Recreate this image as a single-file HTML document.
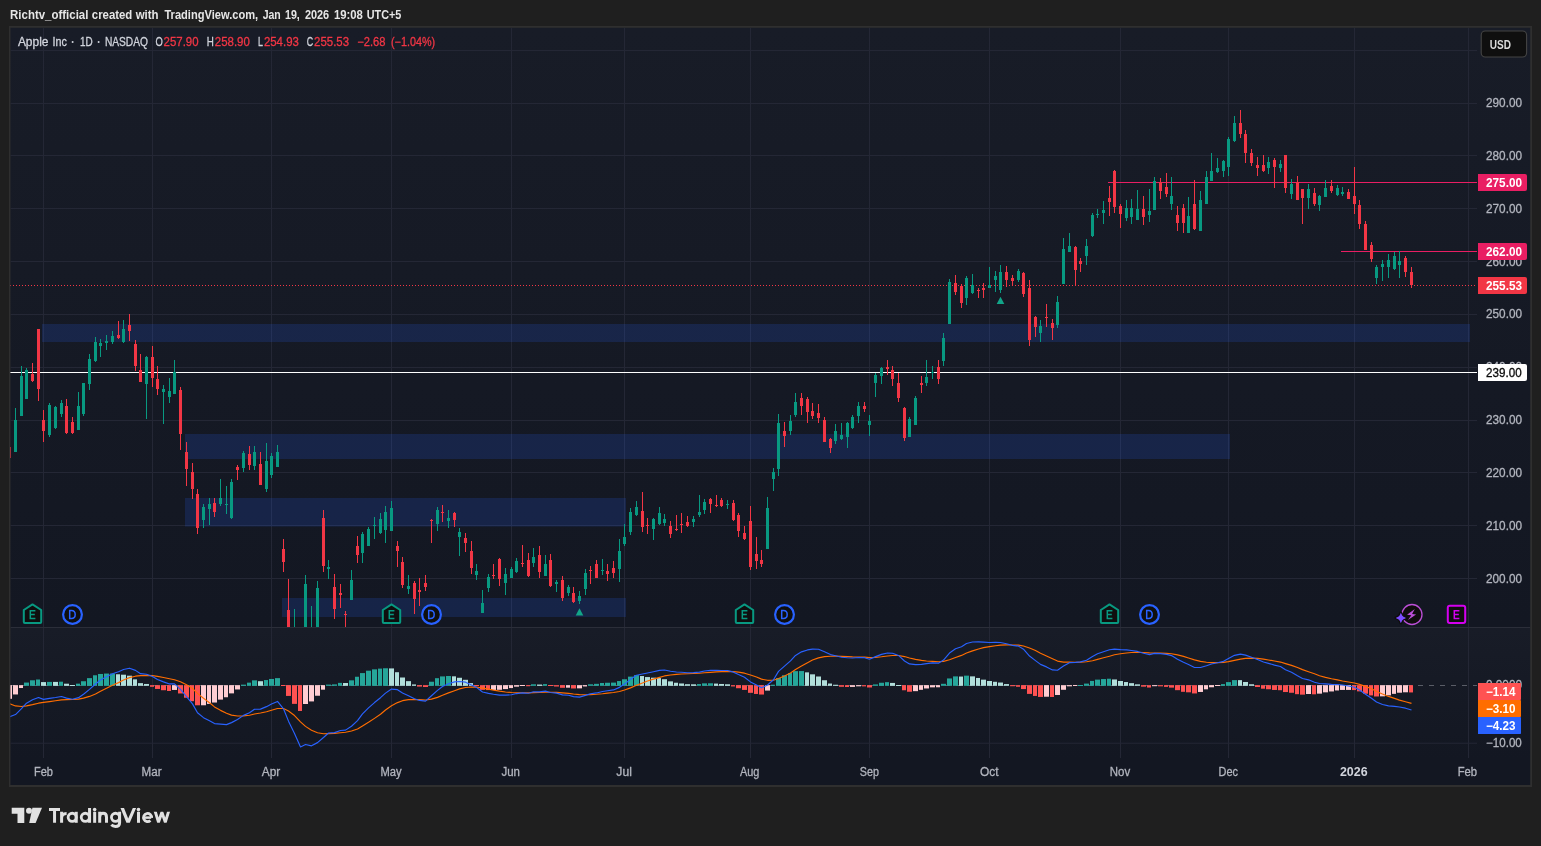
<!DOCTYPE html><html><head><meta charset="utf-8"><title>AAPL chart</title><style>html,body{margin:0;padding:0;background:#1f1f1f;overflow:hidden}</style></head><body><svg width="1541" height="846" viewBox="0 0 1541 846" style="display:block;font-family:'Liberation Sans',sans-serif">
<defs>
<linearGradient id="g1" x1="0" y1="0" x2="0" y2="1"><stop offset="0" stop-color="#181c27"/><stop offset="1" stop-color="#131722"/></linearGradient>
<clipPath id="mainclip"><rect x="10" y="28" width="1467" height="599"/></clipPath>
<clipPath id="macdclip"><rect x="10" y="628" width="1467" height="130"/></clipPath>
</defs>
<rect width="1541" height="846" fill="#1f1f1f"/>
<rect x="10" y="27" width="1521" height="759" fill="#131722"/>
<rect x="10" y="27" width="1521" height="600" fill="url(#g1)"/>
<rect x="10" y="628" width="1521" height="130" fill="url(#g1)"/>
<rect x="10.6" y="50.0" width="1466.4" height="1" fill="#242735"/>
<rect x="10.6" y="103.0" width="1466.4" height="1" fill="#242735"/>
<rect x="10.6" y="155.0" width="1466.4" height="1" fill="#242735"/>
<rect x="10.6" y="208.0" width="1466.4" height="1" fill="#242735"/>
<rect x="10.6" y="261.0" width="1466.4" height="1" fill="#242735"/>
<rect x="10.6" y="314.0" width="1466.4" height="1" fill="#242735"/>
<rect x="10.6" y="367.0" width="1466.4" height="1" fill="#242735"/>
<rect x="10.6" y="420.0" width="1466.4" height="1" fill="#242735"/>
<rect x="10.6" y="472.0" width="1466.4" height="1" fill="#242735"/>
<rect x="10.6" y="525.0" width="1466.4" height="1" fill="#242735"/>
<rect x="10.6" y="578.0" width="1466.4" height="1" fill="#242735"/>
<rect x="43.0" y="27.8" width="1" height="730.2" fill="#242735"/>
<rect x="152.0" y="27.8" width="1" height="730.2" fill="#242735"/>
<rect x="271.0" y="27.8" width="1" height="730.2" fill="#242735"/>
<rect x="391.0" y="27.8" width="1" height="730.2" fill="#242735"/>
<rect x="511.0" y="27.8" width="1" height="730.2" fill="#242735"/>
<rect x="624.0" y="27.8" width="1" height="730.2" fill="#242735"/>
<rect x="750.0" y="27.8" width="1" height="730.2" fill="#242735"/>
<rect x="869.0" y="27.8" width="1" height="730.2" fill="#242735"/>
<rect x="989.0" y="27.8" width="1" height="730.2" fill="#242735"/>
<rect x="1120.0" y="27.8" width="1" height="730.2" fill="#242735"/>
<rect x="1228.0" y="27.8" width="1" height="730.2" fill="#242735"/>
<rect x="1354.0" y="27.8" width="1" height="730.2" fill="#242735"/>
<rect x="1468.0" y="27.8" width="1" height="730.2" fill="#242735"/>
<rect x="10.6" y="742.7" width="1466.4" height="1" fill="#242735"/>
<rect x="10.6" y="627" width="1519.6" height="1" fill="#2b2e39"/>
<rect x="42" y="324" width="1428" height="18" fill="rgba(41,98,255,0.17)"/>
<rect x="185" y="434" width="1045" height="25" fill="rgba(41,98,255,0.17)"/>
<rect x="185" y="498" width="441" height="28.5" fill="rgba(41,98,255,0.17)"/>
<rect x="282" y="598" width="344" height="19" fill="rgba(41,98,255,0.17)"/>
<rect x="1108" y="182" width="369" height="1" fill="#e91e63"/>
<rect x="1341" y="251" width="136" height="1" fill="#e91e63"/>
<line x1="10" y1="285.5" x2="1477" y2="285.5" stroke="#f23645" stroke-width="1" stroke-dasharray="1 2" shape-rendering="crispEdges"/>
<rect x="10" y="372" width="1467" height="1" fill="#ffffff"/>
<g clip-path="url(#mainclip)" shape-rendering="crispEdges">
<rect x="9.0" y="447" width="1" height="11" fill="#f23645"/>
<rect x="8.0" y="447" width="3" height="11" fill="#f23645"/>
<rect x="15.0" y="408" width="1" height="44" fill="#089981"/>
<rect x="14.0" y="420" width="3" height="32" fill="#089981"/>
<rect x="21.0" y="366" width="1" height="50" fill="#089981"/>
<rect x="20.0" y="376" width="3" height="40" fill="#089981"/>
<rect x="26.0" y="368" width="1" height="31" fill="#089981"/>
<rect x="25.0" y="370" width="3" height="29" fill="#089981"/>
<rect x="32.0" y="363" width="1" height="19" fill="#f23645"/>
<rect x="31.0" y="374" width="3" height="7" fill="#f23645"/>
<rect x="38.0" y="329" width="1" height="72" fill="#f23645"/>
<rect x="37.0" y="329" width="3" height="60" fill="#f23645"/>
<rect x="43.0" y="410" width="1" height="32" fill="#f23645"/>
<rect x="42.0" y="420" width="3" height="11" fill="#f23645"/>
<rect x="49.0" y="403" width="1" height="34" fill="#089981"/>
<rect x="48.0" y="405" width="3" height="30" fill="#089981"/>
<rect x="55.0" y="405.5" width="1" height="23.5" fill="#089981"/>
<rect x="54.0" y="406.5" width="3" height="21.5" fill="#089981"/>
<rect x="61.0" y="400" width="1" height="17" fill="#089981"/>
<rect x="60.0" y="403" width="3" height="11" fill="#089981"/>
<rect x="66.0" y="399" width="1" height="35" fill="#f23645"/>
<rect x="65.0" y="406" width="3" height="27" fill="#f23645"/>
<rect x="72.0" y="417" width="1" height="17" fill="#f23645"/>
<rect x="71.0" y="422" width="3" height="11" fill="#f23645"/>
<rect x="78.0" y="392" width="1" height="38" fill="#089981"/>
<rect x="77.0" y="406" width="3" height="24" fill="#089981"/>
<rect x="83.0" y="383" width="1" height="33" fill="#089981"/>
<rect x="82.0" y="383" width="3" height="31" fill="#089981"/>
<rect x="89.0" y="354" width="1" height="36" fill="#089981"/>
<rect x="88.0" y="359" width="3" height="25" fill="#089981"/>
<rect x="95.0" y="337" width="1" height="25" fill="#089981"/>
<rect x="94.0" y="342" width="3" height="19" fill="#089981"/>
<rect x="100.0" y="339" width="1" height="18" fill="#089981"/>
<rect x="99.0" y="343" width="3" height="3" fill="#089981"/>
<rect x="106.0" y="335" width="1" height="15" fill="#089981"/>
<rect x="105.0" y="341" width="3" height="2" fill="#089981"/>
<rect x="112.0" y="331" width="1" height="13" fill="#089981"/>
<rect x="111.0" y="336" width="3" height="6" fill="#089981"/>
<rect x="118.0" y="321" width="1" height="18" fill="#f23645"/>
<rect x="117.0" y="335" width="3" height="3" fill="#f23645"/>
<rect x="123.0" y="320" width="1" height="23" fill="#089981"/>
<rect x="122.0" y="329" width="3" height="13" fill="#089981"/>
<rect x="129.0" y="314" width="1" height="27" fill="#f23645"/>
<rect x="128.0" y="325" width="3" height="6" fill="#f23645"/>
<rect x="135.0" y="340" width="1" height="31" fill="#f23645"/>
<rect x="134.0" y="344" width="3" height="22" fill="#f23645"/>
<rect x="140.0" y="354" width="1" height="28" fill="#f23645"/>
<rect x="139.0" y="370" width="3" height="12" fill="#f23645"/>
<rect x="146.0" y="356" width="1" height="63" fill="#089981"/>
<rect x="145.0" y="357" width="3" height="27" fill="#089981"/>
<rect x="152.0" y="346" width="1" height="41" fill="#f23645"/>
<rect x="151.0" y="357" width="3" height="21" fill="#f23645"/>
<rect x="157.0" y="366" width="1" height="29" fill="#f23645"/>
<rect x="156.0" y="379" width="3" height="10" fill="#f23645"/>
<rect x="163.0" y="385" width="1" height="39" fill="#089981"/>
<rect x="162.0" y="389" width="3" height="3" fill="#089981"/>
<rect x="169.0" y="378" width="1" height="25" fill="#089981"/>
<rect x="168.0" y="391" width="3" height="6" fill="#089981"/>
<rect x="174.0" y="360" width="1" height="34" fill="#089981"/>
<rect x="173.0" y="372" width="3" height="22" fill="#089981"/>
<rect x="180.0" y="387" width="1" height="63" fill="#f23645"/>
<rect x="179.0" y="390" width="3" height="44" fill="#f23645"/>
<rect x="186.0" y="442" width="1" height="44" fill="#f23645"/>
<rect x="185.0" y="452" width="3" height="17" fill="#f23645"/>
<rect x="192.0" y="463" width="1" height="36" fill="#f23645"/>
<rect x="191.0" y="472" width="3" height="17" fill="#f23645"/>
<rect x="197.0" y="489" width="1" height="45" fill="#f23645"/>
<rect x="196.0" y="494" width="3" height="34" fill="#f23645"/>
<rect x="203.0" y="504" width="1" height="24" fill="#089981"/>
<rect x="202.0" y="507" width="3" height="13" fill="#089981"/>
<rect x="209.0" y="498" width="1" height="27" fill="#089981"/>
<rect x="208.0" y="504" width="3" height="5" fill="#089981"/>
<rect x="214.0" y="498" width="1" height="19" fill="#f23645"/>
<rect x="213.0" y="503" width="3" height="9" fill="#f23645"/>
<rect x="220.0" y="479" width="1" height="27" fill="#089981"/>
<rect x="219.0" y="498" width="3" height="6" fill="#089981"/>
<rect x="226.0" y="486" width="1" height="28" fill="#089981"/>
<rect x="225.0" y="504" width="3" height="1" fill="#089981"/>
<rect x="231.0" y="479" width="1" height="40" fill="#089981"/>
<rect x="230.0" y="482" width="3" height="36" fill="#089981"/>
<rect x="237.0" y="465" width="1" height="15" fill="#f23645"/>
<rect x="236.0" y="467" width="3" height="3" fill="#f23645"/>
<rect x="243.0" y="451" width="1" height="21" fill="#089981"/>
<rect x="242.0" y="453" width="3" height="15" fill="#089981"/>
<rect x="249.0" y="446" width="1" height="24" fill="#f23645"/>
<rect x="248.0" y="454" width="3" height="11" fill="#f23645"/>
<rect x="254.0" y="446" width="1" height="24" fill="#089981"/>
<rect x="253.0" y="452" width="3" height="14" fill="#089981"/>
<rect x="260.0" y="452" width="1" height="33" fill="#f23645"/>
<rect x="259.0" y="464" width="3" height="21" fill="#f23645"/>
<rect x="266.0" y="443" width="1" height="49" fill="#089981"/>
<rect x="265.0" y="461" width="3" height="28" fill="#089981"/>
<rect x="271.0" y="453" width="1" height="25" fill="#089981"/>
<rect x="270.0" y="456" width="3" height="19" fill="#089981"/>
<rect x="277.0" y="445" width="1" height="22" fill="#089981"/>
<rect x="276.0" y="452" width="3" height="15" fill="#089981"/>
<rect x="283.0" y="539" width="1" height="33" fill="#f23645"/>
<rect x="282.0" y="549" width="3" height="13" fill="#f23645"/>
<rect x="288.0" y="579" width="1" height="66" fill="#f23645"/>
<rect x="287.0" y="610" width="3" height="30" fill="#f23645"/>
<rect x="294.0" y="609" width="1" height="81" fill="#089981"/>
<rect x="293.0" y="660" width="3" height="20" fill="#089981"/>
<rect x="300.0" y="629" width="1" height="91" fill="#f23645"/>
<rect x="299.0" y="650" width="3" height="50" fill="#f23645"/>
<rect x="305.0" y="575" width="1" height="125" fill="#089981"/>
<rect x="304.0" y="584" width="3" height="116" fill="#089981"/>
<rect x="311.0" y="606" width="1" height="54" fill="#089981"/>
<rect x="310.0" y="629" width="3" height="7" fill="#089981"/>
<rect x="317.0" y="581" width="1" height="71" fill="#089981"/>
<rect x="316.0" y="588" width="3" height="64" fill="#089981"/>
<rect x="323.0" y="510" width="1" height="62" fill="#f23645"/>
<rect x="322.0" y="518" width="3" height="48" fill="#f23645"/>
<rect x="328.0" y="560" width="1" height="19" fill="#089981"/>
<rect x="327.0" y="567" width="3" height="2" fill="#089981"/>
<rect x="334.0" y="574" width="1" height="45" fill="#f23645"/>
<rect x="333.0" y="587" width="3" height="22" fill="#f23645"/>
<rect x="340.0" y="584" width="1" height="24" fill="#f23645"/>
<rect x="339.0" y="593" width="3" height="2" fill="#f23645"/>
<rect x="345.0" y="611" width="1" height="17" fill="#f23645"/>
<rect x="344.0" y="614" width="3" height="1" fill="#f23645"/>
<rect x="351.0" y="570" width="1" height="30" fill="#089981"/>
<rect x="350.0" y="580" width="3" height="20" fill="#089981"/>
<rect x="357.0" y="536" width="1" height="27" fill="#f23645"/>
<rect x="356.0" y="546" width="3" height="9" fill="#f23645"/>
<rect x="362.0" y="532" width="1" height="31" fill="#089981"/>
<rect x="361.0" y="534" width="3" height="19" fill="#089981"/>
<rect x="368.0" y="527" width="1" height="19" fill="#089981"/>
<rect x="367.0" y="529" width="3" height="17" fill="#089981"/>
<rect x="374.0" y="517" width="1" height="22" fill="#089981"/>
<rect x="373.0" y="525" width="3" height="1" fill="#089981"/>
<rect x="380.0" y="513" width="1" height="21" fill="#089981"/>
<rect x="379.0" y="519" width="3" height="14" fill="#089981"/>
<rect x="385.0" y="506" width="1" height="37" fill="#089981"/>
<rect x="384.0" y="512" width="3" height="18" fill="#089981"/>
<rect x="391.0" y="501" width="1" height="30" fill="#089981"/>
<rect x="390.0" y="508" width="3" height="23" fill="#089981"/>
<rect x="397.0" y="541" width="1" height="26" fill="#f23645"/>
<rect x="396.0" y="546" width="3" height="5" fill="#f23645"/>
<rect x="402.0" y="557" width="1" height="31" fill="#f23645"/>
<rect x="401.0" y="562" width="3" height="23" fill="#f23645"/>
<rect x="408.0" y="575" width="1" height="19" fill="#089981"/>
<rect x="407.0" y="586" width="3" height="3" fill="#089981"/>
<rect x="414.0" y="581" width="1" height="33" fill="#f23645"/>
<rect x="413.0" y="583" width="3" height="16" fill="#f23645"/>
<rect x="419.0" y="578" width="1" height="28" fill="#f23645"/>
<rect x="418.0" y="590" width="3" height="2" fill="#f23645"/>
<rect x="425.0" y="575" width="1" height="16" fill="#f23645"/>
<rect x="424.0" y="583" width="3" height="4" fill="#f23645"/>
<rect x="431.0" y="519" width="1" height="24" fill="#f23645"/>
<rect x="430.0" y="520" width="3" height="1" fill="#f23645"/>
<rect x="437.0" y="507" width="1" height="24" fill="#089981"/>
<rect x="436.0" y="510" width="3" height="14" fill="#089981"/>
<rect x="442.0" y="505" width="1" height="17" fill="#f23645"/>
<rect x="441.0" y="512" width="3" height="1" fill="#f23645"/>
<rect x="448.0" y="510" width="1" height="18" fill="#089981"/>
<rect x="447.0" y="518" width="3" height="3" fill="#089981"/>
<rect x="454.0" y="512" width="1" height="15" fill="#f23645"/>
<rect x="453.0" y="513" width="3" height="7" fill="#f23645"/>
<rect x="459.0" y="528" width="1" height="28" fill="#089981"/>
<rect x="458.0" y="532" width="3" height="5" fill="#089981"/>
<rect x="465.0" y="533" width="1" height="19" fill="#f23645"/>
<rect x="464.0" y="538" width="3" height="5" fill="#f23645"/>
<rect x="471.0" y="541" width="1" height="33" fill="#f23645"/>
<rect x="470.0" y="551" width="3" height="17" fill="#f23645"/>
<rect x="476.0" y="564" width="1" height="16" fill="#089981"/>
<rect x="475.0" y="571" width="3" height="4" fill="#089981"/>
<rect x="482.0" y="590" width="1" height="23" fill="#089981"/>
<rect x="481.0" y="603" width="3" height="10" fill="#089981"/>
<rect x="488.0" y="574" width="1" height="18" fill="#089981"/>
<rect x="487.0" y="577" width="3" height="11" fill="#089981"/>
<rect x="493.0" y="564" width="1" height="15" fill="#f23645"/>
<rect x="492.0" y="575" width="3" height="1" fill="#f23645"/>
<rect x="499.0" y="558" width="1" height="28" fill="#f23645"/>
<rect x="498.0" y="559" width="3" height="20" fill="#f23645"/>
<rect x="505.0" y="568" width="1" height="27" fill="#089981"/>
<rect x="504.0" y="574" width="3" height="9" fill="#089981"/>
<rect x="511.0" y="567" width="1" height="11" fill="#089981"/>
<rect x="510.0" y="569" width="3" height="9" fill="#089981"/>
<rect x="516.0" y="558" width="1" height="15" fill="#089981"/>
<rect x="515.0" y="561" width="3" height="11" fill="#089981"/>
<rect x="522.0" y="545" width="1" height="22" fill="#f23645"/>
<rect x="521.0" y="563" width="3" height="1" fill="#f23645"/>
<rect x="528.0" y="553" width="1" height="24" fill="#f23645"/>
<rect x="527.0" y="560" width="3" height="16" fill="#f23645"/>
<rect x="533.0" y="548" width="1" height="19" fill="#089981"/>
<rect x="532.0" y="557" width="3" height="6" fill="#089981"/>
<rect x="539.0" y="546" width="1" height="32" fill="#f23645"/>
<rect x="538.0" y="555" width="3" height="17" fill="#f23645"/>
<rect x="545.0" y="555" width="1" height="21" fill="#089981"/>
<rect x="544.0" y="564" width="3" height="12" fill="#089981"/>
<rect x="550.0" y="554" width="1" height="33" fill="#f23645"/>
<rect x="549.0" y="560" width="3" height="26" fill="#f23645"/>
<rect x="556.0" y="580" width="1" height="12" fill="#089981"/>
<rect x="555.0" y="582" width="3" height="2" fill="#089981"/>
<rect x="562.0" y="576" width="1" height="25" fill="#f23645"/>
<rect x="561.0" y="580" width="3" height="18" fill="#f23645"/>
<rect x="568.0" y="585" width="1" height="11" fill="#089981"/>
<rect x="567.0" y="587" width="3" height="6" fill="#089981"/>
<rect x="573.0" y="587" width="1" height="16" fill="#f23645"/>
<rect x="572.0" y="593" width="3" height="9" fill="#f23645"/>
<rect x="579.0" y="591" width="1" height="13" fill="#089981"/>
<rect x="578.0" y="596" width="3" height="5" fill="#089981"/>
<rect x="585.0" y="569" width="1" height="26" fill="#089981"/>
<rect x="584.0" y="573" width="3" height="16" fill="#089981"/>
<rect x="590.0" y="566" width="1" height="18" fill="#f23645"/>
<rect x="589.0" y="570" width="3" height="1" fill="#f23645"/>
<rect x="596.0" y="560" width="1" height="18" fill="#f23645"/>
<rect x="595.0" y="564" width="3" height="14" fill="#f23645"/>
<rect x="602.0" y="559" width="1" height="16" fill="#089981"/>
<rect x="601.0" y="570" width="3" height="1" fill="#089981"/>
<rect x="607.0" y="564" width="1" height="17" fill="#f23645"/>
<rect x="606.0" y="571" width="3" height="3" fill="#f23645"/>
<rect x="613.0" y="561" width="1" height="17" fill="#f23645"/>
<rect x="612.0" y="568" width="3" height="5" fill="#f23645"/>
<rect x="619.0" y="539" width="1" height="43" fill="#089981"/>
<rect x="618.0" y="551" width="3" height="18" fill="#089981"/>
<rect x="624.0" y="524" width="1" height="22" fill="#089981"/>
<rect x="623.0" y="537" width="3" height="7" fill="#089981"/>
<rect x="630.0" y="508" width="1" height="27" fill="#089981"/>
<rect x="629.0" y="512" width="3" height="20" fill="#089981"/>
<rect x="636.0" y="501" width="1" height="15" fill="#089981"/>
<rect x="635.0" y="507" width="3" height="8" fill="#089981"/>
<rect x="642.0" y="492" width="1" height="40" fill="#f23645"/>
<rect x="641.0" y="511" width="3" height="16" fill="#f23645"/>
<rect x="647.0" y="518" width="1" height="16" fill="#f23645"/>
<rect x="646.0" y="525" width="3" height="1" fill="#f23645"/>
<rect x="653.0" y="518" width="1" height="22" fill="#089981"/>
<rect x="652.0" y="519" width="3" height="10" fill="#089981"/>
<rect x="659.0" y="507" width="1" height="18" fill="#089981"/>
<rect x="658.0" y="513" width="3" height="11" fill="#089981"/>
<rect x="664.0" y="514" width="1" height="12" fill="#089981"/>
<rect x="663.0" y="519" width="3" height="4" fill="#089981"/>
<rect x="670.0" y="521" width="1" height="17" fill="#f23645"/>
<rect x="669.0" y="526" width="3" height="8" fill="#f23645"/>
<rect x="676.0" y="515" width="1" height="16" fill="#f23645"/>
<rect x="675.0" y="529" width="3" height="1" fill="#f23645"/>
<rect x="681.0" y="513" width="1" height="20" fill="#f23645"/>
<rect x="680.0" y="524" width="3" height="1" fill="#f23645"/>
<rect x="687.0" y="516" width="1" height="11" fill="#f23645"/>
<rect x="686.0" y="522" width="3" height="4" fill="#f23645"/>
<rect x="693.0" y="516" width="1" height="11" fill="#089981"/>
<rect x="692.0" y="519" width="3" height="3" fill="#089981"/>
<rect x="699.0" y="495" width="1" height="22" fill="#089981"/>
<rect x="698.0" y="512" width="3" height="3" fill="#089981"/>
<rect x="704.0" y="499" width="1" height="15" fill="#089981"/>
<rect x="703.0" y="502" width="3" height="8" fill="#089981"/>
<rect x="710.0" y="498" width="1" height="15" fill="#f23645"/>
<rect x="709.0" y="499" width="3" height="5" fill="#f23645"/>
<rect x="716.0" y="495" width="1" height="12" fill="#f23645"/>
<rect x="715.0" y="505" width="3" height="1" fill="#f23645"/>
<rect x="721.0" y="498" width="1" height="9" fill="#f23645"/>
<rect x="720.0" y="500" width="3" height="6" fill="#f23645"/>
<rect x="727.0" y="500" width="1" height="9" fill="#089981"/>
<rect x="726.0" y="504" width="3" height="1" fill="#089981"/>
<rect x="733.0" y="500" width="1" height="21" fill="#f23645"/>
<rect x="732.0" y="503" width="3" height="17" fill="#f23645"/>
<rect x="738.0" y="513" width="1" height="24" fill="#f23645"/>
<rect x="737.0" y="515" width="3" height="16" fill="#f23645"/>
<rect x="744.0" y="526" width="1" height="14" fill="#f23645"/>
<rect x="743.0" y="533" width="3" height="6" fill="#f23645"/>
<rect x="750.0" y="506" width="1" height="64" fill="#f23645"/>
<rect x="749.0" y="521" width="3" height="46" fill="#f23645"/>
<rect x="756.0" y="537" width="1" height="32" fill="#f23645"/>
<rect x="755.0" y="554" width="3" height="7" fill="#f23645"/>
<rect x="761.0" y="550" width="1" height="17" fill="#f23645"/>
<rect x="760.0" y="560" width="3" height="4" fill="#f23645"/>
<rect x="767.0" y="497" width="1" height="52" fill="#089981"/>
<rect x="766.0" y="508" width="3" height="41" fill="#089981"/>
<rect x="773.0" y="468" width="1" height="23" fill="#089981"/>
<rect x="772.0" y="472" width="3" height="7" fill="#089981"/>
<rect x="778.0" y="414" width="1" height="62" fill="#089981"/>
<rect x="777.0" y="423" width="3" height="46" fill="#089981"/>
<rect x="784.0" y="422" width="1" height="25" fill="#f23645"/>
<rect x="783.0" y="431" width="3" height="5" fill="#f23645"/>
<rect x="790.0" y="415" width="1" height="20" fill="#089981"/>
<rect x="789.0" y="421" width="3" height="10" fill="#089981"/>
<rect x="795.0" y="393" width="1" height="24" fill="#089981"/>
<rect x="794.0" y="402" width="3" height="13" fill="#089981"/>
<rect x="801.0" y="393" width="1" height="22" fill="#f23645"/>
<rect x="800.0" y="398" width="3" height="8" fill="#f23645"/>
<rect x="807.0" y="397" width="1" height="26" fill="#f23645"/>
<rect x="806.0" y="399" width="3" height="13" fill="#f23645"/>
<rect x="812.0" y="403" width="1" height="16" fill="#f23645"/>
<rect x="811.0" y="411" width="3" height="5" fill="#f23645"/>
<rect x="818.0" y="404" width="1" height="19" fill="#f23645"/>
<rect x="817.0" y="413" width="3" height="5" fill="#f23645"/>
<rect x="824.0" y="417" width="1" height="25" fill="#f23645"/>
<rect x="823.0" y="420" width="3" height="22" fill="#f23645"/>
<rect x="830.0" y="438" width="1" height="15" fill="#f23645"/>
<rect x="829.0" y="439" width="3" height="9" fill="#f23645"/>
<rect x="835.0" y="424" width="1" height="20" fill="#089981"/>
<rect x="834.0" y="431" width="3" height="10" fill="#089981"/>
<rect x="841.0" y="423" width="1" height="17" fill="#089981"/>
<rect x="840.0" y="435" width="3" height="4" fill="#089981"/>
<rect x="847.0" y="422" width="1" height="26" fill="#089981"/>
<rect x="846.0" y="423" width="3" height="14" fill="#089981"/>
<rect x="852.0" y="415" width="1" height="14" fill="#089981"/>
<rect x="851.0" y="417" width="3" height="11" fill="#089981"/>
<rect x="858.0" y="402" width="1" height="21" fill="#089981"/>
<rect x="857.0" y="406" width="3" height="10" fill="#089981"/>
<rect x="864.0" y="402" width="1" height="10" fill="#f23645"/>
<rect x="863.0" y="406" width="3" height="3" fill="#f23645"/>
<rect x="869.0" y="415" width="1" height="21" fill="#089981"/>
<rect x="868.0" y="421" width="3" height="4" fill="#089981"/>
<rect x="875.0" y="373" width="1" height="24" fill="#089981"/>
<rect x="874.0" y="375" width="3" height="8" fill="#089981"/>
<rect x="881.0" y="367" width="1" height="17" fill="#089981"/>
<rect x="880.0" y="368" width="3" height="8" fill="#089981"/>
<rect x="887.0" y="360" width="1" height="15" fill="#f23645"/>
<rect x="886.0" y="367" width="3" height="2" fill="#f23645"/>
<rect x="892.0" y="366" width="1" height="20" fill="#f23645"/>
<rect x="891.0" y="370" width="3" height="9" fill="#f23645"/>
<rect x="898.0" y="373" width="1" height="29" fill="#f23645"/>
<rect x="897.0" y="383" width="3" height="15" fill="#f23645"/>
<rect x="904.0" y="407" width="1" height="34" fill="#f23645"/>
<rect x="903.0" y="408" width="3" height="30" fill="#f23645"/>
<rect x="909.0" y="417" width="1" height="20" fill="#089981"/>
<rect x="908.0" y="419" width="3" height="18" fill="#089981"/>
<rect x="915.0" y="396" width="1" height="29" fill="#089981"/>
<rect x="914.0" y="398" width="3" height="27" fill="#089981"/>
<rect x="921.0" y="376" width="1" height="17" fill="#f23645"/>
<rect x="920.0" y="383" width="3" height="2" fill="#f23645"/>
<rect x="926.0" y="360" width="1" height="26" fill="#089981"/>
<rect x="925.0" y="377" width="3" height="6" fill="#089981"/>
<rect x="932.0" y="366" width="1" height="13" fill="#089981"/>
<rect x="931.0" y="372" width="3" height="1" fill="#089981"/>
<rect x="938.0" y="360" width="1" height="24" fill="#f23645"/>
<rect x="937.0" y="367" width="3" height="12" fill="#f23645"/>
<rect x="943.0" y="333" width="1" height="33" fill="#089981"/>
<rect x="942.0" y="338" width="3" height="23" fill="#089981"/>
<rect x="949.0" y="279" width="1" height="45" fill="#089981"/>
<rect x="948.0" y="282" width="3" height="42" fill="#089981"/>
<rect x="955.0" y="275" width="1" height="20" fill="#f23645"/>
<rect x="954.0" y="283" width="3" height="9" fill="#f23645"/>
<rect x="961.0" y="284" width="1" height="24" fill="#f23645"/>
<rect x="960.0" y="286" width="3" height="17" fill="#f23645"/>
<rect x="966.0" y="276" width="1" height="29" fill="#089981"/>
<rect x="965.0" y="278" width="3" height="20" fill="#089981"/>
<rect x="972.0" y="274" width="1" height="20" fill="#089981"/>
<rect x="971.0" y="285" width="3" height="8" fill="#089981"/>
<rect x="978.0" y="288" width="1" height="10" fill="#f23645"/>
<rect x="977.0" y="289.5" width="3" height="1.0" fill="#f23645"/>
<rect x="983.0" y="283" width="1" height="15" fill="#f23645"/>
<rect x="982.0" y="288" width="3" height="2" fill="#f23645"/>
<rect x="989.0" y="267" width="1" height="21" fill="#089981"/>
<rect x="988.0" y="285" width="3" height="3" fill="#089981"/>
<rect x="995.0" y="271" width="1" height="21" fill="#089981"/>
<rect x="994.0" y="276" width="3" height="4" fill="#089981"/>
<rect x="1000.0" y="265" width="1" height="28" fill="#089981"/>
<rect x="999.0" y="272" width="3" height="18" fill="#089981"/>
<rect x="1006.0" y="266" width="1" height="21" fill="#f23645"/>
<rect x="1005.0" y="272" width="3" height="8" fill="#f23645"/>
<rect x="1012.0" y="275" width="1" height="11" fill="#f23645"/>
<rect x="1011.0" y="278" width="3" height="3" fill="#f23645"/>
<rect x="1018.0" y="269" width="1" height="13" fill="#089981"/>
<rect x="1017.0" y="271" width="3" height="9" fill="#089981"/>
<rect x="1023.0" y="272" width="1" height="25" fill="#f23645"/>
<rect x="1022.0" y="273" width="3" height="21" fill="#f23645"/>
<rect x="1029.0" y="280" width="1" height="66" fill="#f23645"/>
<rect x="1028.0" y="288" width="3" height="52" fill="#f23645"/>
<rect x="1035.0" y="316" width="1" height="21" fill="#f23645"/>
<rect x="1034.0" y="317" width="3" height="10" fill="#f23645"/>
<rect x="1040.0" y="320" width="1" height="22" fill="#089981"/>
<rect x="1039.0" y="326" width="3" height="7" fill="#089981"/>
<rect x="1046.0" y="304" width="1" height="23" fill="#f23645"/>
<rect x="1045.0" y="317" width="3" height="1" fill="#f23645"/>
<rect x="1052.0" y="319" width="1" height="21" fill="#f23645"/>
<rect x="1051.0" y="323" width="3" height="5" fill="#f23645"/>
<rect x="1057.0" y="296" width="1" height="32" fill="#089981"/>
<rect x="1056.0" y="302" width="3" height="23" fill="#089981"/>
<rect x="1063.0" y="238" width="1" height="46" fill="#089981"/>
<rect x="1062.0" y="249" width="3" height="35" fill="#089981"/>
<rect x="1069.0" y="233" width="1" height="19" fill="#089981"/>
<rect x="1068.0" y="246" width="3" height="6" fill="#089981"/>
<rect x="1075.0" y="246" width="1" height="40" fill="#f23645"/>
<rect x="1074.0" y="247" width="3" height="23" fill="#f23645"/>
<rect x="1080.0" y="258" width="1" height="14" fill="#f23645"/>
<rect x="1079.0" y="261" width="3" height="3" fill="#f23645"/>
<rect x="1086.0" y="239" width="1" height="26" fill="#089981"/>
<rect x="1085.0" y="246" width="3" height="10" fill="#089981"/>
<rect x="1092.0" y="213" width="1" height="24" fill="#089981"/>
<rect x="1091.0" y="215" width="3" height="21" fill="#089981"/>
<rect x="1097.0" y="209" width="1" height="9" fill="#089981"/>
<rect x="1096.0" y="214" width="3" height="1" fill="#089981"/>
<rect x="1103.0" y="201" width="1" height="23" fill="#089981"/>
<rect x="1102.0" y="210" width="3" height="3" fill="#089981"/>
<rect x="1109.0" y="186" width="1" height="30" fill="#f23645"/>
<rect x="1108.0" y="198" width="3" height="4" fill="#f23645"/>
<rect x="1114.0" y="170" width="1" height="43" fill="#f23645"/>
<rect x="1113.0" y="171" width="3" height="36" fill="#f23645"/>
<rect x="1120.0" y="204" width="1" height="24" fill="#f23645"/>
<rect x="1119.0" y="206" width="3" height="8" fill="#f23645"/>
<rect x="1126.0" y="200" width="1" height="21" fill="#089981"/>
<rect x="1125.0" y="208" width="3" height="10" fill="#089981"/>
<rect x="1131.0" y="199" width="1" height="25" fill="#089981"/>
<rect x="1130.0" y="208" width="3" height="9" fill="#089981"/>
<rect x="1137.0" y="190" width="1" height="30" fill="#089981"/>
<rect x="1136.0" y="209" width="3" height="11" fill="#089981"/>
<rect x="1143.0" y="196" width="1" height="29" fill="#f23645"/>
<rect x="1142.0" y="209" width="3" height="8" fill="#f23645"/>
<rect x="1149.0" y="189" width="1" height="33" fill="#089981"/>
<rect x="1148.0" y="211" width="3" height="4" fill="#089981"/>
<rect x="1154.0" y="177" width="1" height="33" fill="#089981"/>
<rect x="1153.0" y="181" width="3" height="29" fill="#089981"/>
<rect x="1160.0" y="178" width="1" height="21" fill="#f23645"/>
<rect x="1159.0" y="182" width="3" height="9" fill="#f23645"/>
<rect x="1166.0" y="173" width="1" height="24" fill="#f23645"/>
<rect x="1165.0" y="187" width="3" height="7" fill="#f23645"/>
<rect x="1171.0" y="177" width="1" height="33" fill="#089981"/>
<rect x="1170.0" y="196" width="3" height="8" fill="#089981"/>
<rect x="1177.0" y="206" width="1" height="25" fill="#f23645"/>
<rect x="1176.0" y="215" width="3" height="8" fill="#f23645"/>
<rect x="1183.0" y="204" width="1" height="29" fill="#f23645"/>
<rect x="1182.0" y="208" width="3" height="15" fill="#f23645"/>
<rect x="1188.0" y="197" width="1" height="36" fill="#089981"/>
<rect x="1187.0" y="216" width="3" height="17" fill="#089981"/>
<rect x="1194.0" y="180" width="1" height="50" fill="#f23645"/>
<rect x="1193.0" y="204" width="3" height="25" fill="#f23645"/>
<rect x="1200.0" y="191" width="1" height="40" fill="#089981"/>
<rect x="1199.0" y="200" width="3" height="31" fill="#089981"/>
<rect x="1206.0" y="171" width="1" height="33" fill="#089981"/>
<rect x="1205.0" y="177" width="3" height="27" fill="#089981"/>
<rect x="1211.0" y="153" width="1" height="28" fill="#089981"/>
<rect x="1210.0" y="171" width="3" height="10" fill="#089981"/>
<rect x="1217.0" y="158" width="1" height="15" fill="#089981"/>
<rect x="1216.0" y="168" width="3" height="4" fill="#089981"/>
<rect x="1223.0" y="160" width="1" height="17" fill="#089981"/>
<rect x="1222.0" y="161" width="3" height="10" fill="#089981"/>
<rect x="1228.0" y="137" width="1" height="39" fill="#089981"/>
<rect x="1227.0" y="139" width="3" height="28" fill="#089981"/>
<rect x="1234.0" y="116" width="1" height="26" fill="#089981"/>
<rect x="1233.0" y="123" width="3" height="18" fill="#089981"/>
<rect x="1240.0" y="110" width="1" height="28" fill="#f23645"/>
<rect x="1239.0" y="123" width="3" height="11" fill="#f23645"/>
<rect x="1245.0" y="130" width="1" height="33" fill="#f23645"/>
<rect x="1244.0" y="134" width="3" height="19" fill="#f23645"/>
<rect x="1251.0" y="149" width="1" height="17" fill="#f23645"/>
<rect x="1250.0" y="153" width="3" height="10" fill="#f23645"/>
<rect x="1257.0" y="157" width="1" height="19" fill="#f23645"/>
<rect x="1256.0" y="165" width="3" height="3" fill="#f23645"/>
<rect x="1263.0" y="155" width="1" height="17" fill="#f23645"/>
<rect x="1262.0" y="165" width="3" height="6" fill="#f23645"/>
<rect x="1268.0" y="157" width="1" height="17" fill="#089981"/>
<rect x="1267.0" y="162" width="3" height="6" fill="#089981"/>
<rect x="1274.0" y="158" width="1" height="30" fill="#f23645"/>
<rect x="1273.0" y="160" width="3" height="7" fill="#f23645"/>
<rect x="1280.0" y="160" width="1" height="12" fill="#089981"/>
<rect x="1279.0" y="164" width="3" height="4" fill="#089981"/>
<rect x="1285.0" y="155" width="1" height="38" fill="#f23645"/>
<rect x="1284.0" y="155" width="3" height="33" fill="#f23645"/>
<rect x="1291.0" y="179" width="1" height="20" fill="#089981"/>
<rect x="1290.0" y="184" width="3" height="10" fill="#089981"/>
<rect x="1297.0" y="176" width="1" height="24" fill="#f23645"/>
<rect x="1296.0" y="182" width="3" height="18" fill="#f23645"/>
<rect x="1302.0" y="189" width="1" height="35" fill="#f23645"/>
<rect x="1301.0" y="189" width="3" height="9" fill="#f23645"/>
<rect x="1308.0" y="184" width="1" height="25" fill="#089981"/>
<rect x="1307.0" y="189" width="3" height="9" fill="#089981"/>
<rect x="1314.0" y="188" width="1" height="18" fill="#f23645"/>
<rect x="1313.0" y="193" width="3" height="11" fill="#f23645"/>
<rect x="1319.0" y="195" width="1" height="16" fill="#089981"/>
<rect x="1318.0" y="196" width="3" height="9" fill="#089981"/>
<rect x="1325.0" y="180" width="1" height="17" fill="#089981"/>
<rect x="1324.0" y="188" width="3" height="9" fill="#089981"/>
<rect x="1331.0" y="180" width="1" height="13" fill="#f23645"/>
<rect x="1330.0" y="186" width="3" height="5" fill="#f23645"/>
<rect x="1337.0" y="185" width="1" height="11" fill="#089981"/>
<rect x="1336.0" y="188" width="3" height="7" fill="#089981"/>
<rect x="1342.0" y="187" width="1" height="9" fill="#089981"/>
<rect x="1341.0" y="192" width="3" height="2" fill="#089981"/>
<rect x="1348.0" y="189" width="1" height="10" fill="#f23645"/>
<rect x="1347.0" y="192" width="3" height="7" fill="#f23645"/>
<rect x="1354.0" y="167" width="1" height="47" fill="#f23645"/>
<rect x="1353.0" y="196" width="3" height="8" fill="#f23645"/>
<rect x="1359.0" y="200" width="1" height="29" fill="#f23645"/>
<rect x="1358.0" y="205" width="3" height="19" fill="#f23645"/>
<rect x="1365.0" y="221" width="1" height="29" fill="#f23645"/>
<rect x="1364.0" y="224" width="3" height="26" fill="#f23645"/>
<rect x="1371.0" y="242" width="1" height="20" fill="#f23645"/>
<rect x="1370.0" y="245" width="3" height="14" fill="#f23645"/>
<rect x="1376.0" y="265" width="1" height="19" fill="#089981"/>
<rect x="1375.0" y="267" width="3" height="11" fill="#089981"/>
<rect x="1382.0" y="260" width="1" height="21" fill="#089981"/>
<rect x="1381.0" y="264" width="3" height="3" fill="#089981"/>
<rect x="1388.0" y="254" width="1" height="24" fill="#089981"/>
<rect x="1387.0" y="260" width="3" height="7" fill="#089981"/>
<rect x="1394.0" y="252" width="1" height="18" fill="#089981"/>
<rect x="1393.0" y="256" width="3" height="13" fill="#089981"/>
<rect x="1399.0" y="251" width="1" height="27" fill="#089981"/>
<rect x="1398.0" y="261" width="3" height="4" fill="#089981"/>
<rect x="1405.0" y="256" width="1" height="21" fill="#f23645"/>
<rect x="1404.0" y="258" width="3" height="14" fill="#f23645"/>
<rect x="1411.0" y="267" width="1" height="21" fill="#f23645"/>
<rect x="1410.0" y="272" width="3" height="13" fill="#f23645"/>
</g>
<g clip-path="url(#macdclip)">
<line x1="10" y1="685.5" x2="1477" y2="685.5" stroke="#5a5d67" stroke-width="1" stroke-dasharray="5 6" shape-rendering="crispEdges"/>
<rect x="7" y="685.15" width="5" height="13.67" fill="#ffcdd2"/>
<rect x="13" y="685.15" width="5" height="9.31" fill="#ffcdd2"/>
<rect x="19" y="685.15" width="4" height="2.87" fill="#ffcdd2"/>
<rect x="24" y="682.56" width="5" height="3.29" fill="#26a69a"/>
<rect x="30" y="680.29" width="5" height="5.56" fill="#26a69a"/>
<rect x="36" y="679.51" width="4" height="6.34" fill="#26a69a"/>
<rect x="41" y="682.09" width="5" height="3.76" fill="#b2dfdb"/>
<rect x="47" y="681.90" width="5" height="3.95" fill="#26a69a"/>
<rect x="53" y="681.90" width="5" height="3.95" fill="#b2dfdb"/>
<rect x="59" y="681.69" width="4" height="4.16" fill="#26a69a"/>
<rect x="64" y="683.71" width="5" height="2.14" fill="#b2dfdb"/>
<rect x="70" y="685.00" width="5" height="1.00" fill="#b2dfdb"/>
<rect x="76" y="683.67" width="4" height="2.18" fill="#26a69a"/>
<rect x="81" y="681.24" width="5" height="4.61" fill="#26a69a"/>
<rect x="87" y="678.13" width="5" height="7.72" fill="#26a69a"/>
<rect x="93" y="675.26" width="4" height="10.59" fill="#26a69a"/>
<rect x="98" y="673.97" width="5" height="11.88" fill="#26a69a"/>
<rect x="104" y="673.56" width="5" height="12.29" fill="#26a69a"/>
<rect x="110" y="673.53" width="5" height="12.32" fill="#26a69a"/>
<rect x="116" y="674.26" width="4" height="11.59" fill="#b2dfdb"/>
<rect x="121" y="674.69" width="5" height="11.16" fill="#b2dfdb"/>
<rect x="127" y="675.70" width="5" height="10.15" fill="#b2dfdb"/>
<rect x="133" y="679.34" width="4" height="6.51" fill="#b2dfdb"/>
<rect x="138" y="683.13" width="5" height="2.72" fill="#b2dfdb"/>
<rect x="144" y="683.96" width="5" height="1.89" fill="#b2dfdb"/>
<rect x="150" y="685.15" width="4" height="1.65" fill="#ff5252"/>
<rect x="155" y="685.15" width="5" height="3.80" fill="#ff5252"/>
<rect x="161" y="685.15" width="5" height="5.07" fill="#ff5252"/>
<rect x="167" y="685.15" width="4" height="5.84" fill="#ff5252"/>
<rect x="172" y="685.15" width="5" height="4.80" fill="#ffcdd2"/>
<rect x="178" y="685.15" width="5" height="8.31" fill="#ff5252"/>
<rect x="184" y="685.15" width="5" height="12.59" fill="#ff5252"/>
<rect x="190" y="685.15" width="4" height="16.06" fill="#ff5252"/>
<rect x="195" y="685.15" width="5" height="20.13" fill="#ff5252"/>
<rect x="201" y="685.15" width="5" height="20.12" fill="#ffcdd2"/>
<rect x="207" y="685.15" width="4" height="18.77" fill="#ffcdd2"/>
<rect x="212" y="685.15" width="5" height="17.38" fill="#ffcdd2"/>
<rect x="218" y="685.15" width="5" height="14.46" fill="#ffcdd2"/>
<rect x="224" y="685.15" width="4" height="12.10" fill="#ffcdd2"/>
<rect x="229" y="685.15" width="5" height="8.23" fill="#ffcdd2"/>
<rect x="235" y="685.15" width="5" height="4.31" fill="#ffcdd2"/>
<rect x="241" y="684.64" width="5" height="1.21" fill="#26a69a"/>
<rect x="247" y="682.65" width="4" height="3.20" fill="#26a69a"/>
<rect x="252" y="680.35" width="5" height="5.50" fill="#26a69a"/>
<rect x="258" y="681.21" width="5" height="4.64" fill="#b2dfdb"/>
<rect x="264" y="680.03" width="4" height="5.82" fill="#26a69a"/>
<rect x="269" y="678.96" width="5" height="6.89" fill="#26a69a"/>
<rect x="275" y="678.12" width="5" height="7.73" fill="#26a69a"/>
<rect x="281" y="685.00" width="4" height="1.00" fill="#ff5252"/>
<rect x="286" y="685.15" width="5" height="10.78" fill="#ff5252"/>
<rect x="292" y="685.15" width="5" height="18.72" fill="#ff5252"/>
<rect x="298" y="685.15" width="4" height="25.81" fill="#ff5252"/>
<rect x="303" y="685.15" width="5" height="18.85" fill="#ffcdd2"/>
<rect x="309" y="685.15" width="5" height="16.28" fill="#ffcdd2"/>
<rect x="315" y="685.15" width="5" height="10.59" fill="#ffcdd2"/>
<rect x="321" y="685.15" width="4" height="4.52" fill="#ffcdd2"/>
<rect x="326" y="684.59" width="5" height="1.26" fill="#26a69a"/>
<rect x="332" y="684.38" width="5" height="1.47" fill="#26a69a"/>
<rect x="338" y="682.87" width="4" height="2.98" fill="#26a69a"/>
<rect x="343" y="683.01" width="5" height="2.84" fill="#b2dfdb"/>
<rect x="349" y="680.34" width="5" height="5.51" fill="#26a69a"/>
<rect x="355" y="676.75" width="4" height="9.10" fill="#26a69a"/>
<rect x="360" y="673.08" width="5" height="12.77" fill="#26a69a"/>
<rect x="366" y="670.69" width="5" height="15.16" fill="#26a69a"/>
<rect x="372" y="669.34" width="5" height="16.51" fill="#26a69a"/>
<rect x="378" y="668.60" width="4" height="17.25" fill="#26a69a"/>
<rect x="383" y="668.26" width="5" height="17.59" fill="#26a69a"/>
<rect x="389" y="668.42" width="5" height="17.43" fill="#b2dfdb"/>
<rect x="395" y="672.22" width="4" height="13.63" fill="#b2dfdb"/>
<rect x="400" y="677.50" width="5" height="8.35" fill="#b2dfdb"/>
<rect x="406" y="681.14" width="5" height="4.71" fill="#b2dfdb"/>
<rect x="412" y="684.42" width="4" height="1.43" fill="#b2dfdb"/>
<rect x="417" y="685.15" width="5" height="1.44" fill="#ff5252"/>
<rect x="423" y="685.15" width="5" height="1.84" fill="#ff5252"/>
<rect x="429" y="681.74" width="5" height="4.11" fill="#26a69a"/>
<rect x="435" y="678.18" width="4" height="7.67" fill="#26a69a"/>
<rect x="440" y="676.41" width="5" height="9.44" fill="#26a69a"/>
<rect x="446" y="676.02" width="5" height="9.83" fill="#26a69a"/>
<rect x="452" y="676.33" width="4" height="9.52" fill="#b2dfdb"/>
<rect x="457" y="677.77" width="5" height="8.08" fill="#b2dfdb"/>
<rect x="463" y="679.80" width="5" height="6.05" fill="#b2dfdb"/>
<rect x="469" y="683.09" width="4" height="2.76" fill="#b2dfdb"/>
<rect x="474" y="685.00" width="5" height="1.00" fill="#ff5252"/>
<rect x="480" y="685.15" width="5" height="4.68" fill="#ff5252"/>
<rect x="486" y="685.15" width="4" height="4.94" fill="#ff5252"/>
<rect x="491" y="685.15" width="5" height="4.78" fill="#ffcdd2"/>
<rect x="497" y="685.15" width="5" height="4.63" fill="#ffcdd2"/>
<rect x="503" y="685.15" width="5" height="3.93" fill="#ffcdd2"/>
<rect x="509" y="685.15" width="4" height="2.92" fill="#ffcdd2"/>
<rect x="514" y="685.15" width="5" height="1.54" fill="#ffcdd2"/>
<rect x="520" y="685.00" width="5" height="1.00" fill="#ffcdd2"/>
<rect x="526" y="685.15" width="4" height="1.07" fill="#ff5252"/>
<rect x="531" y="684.29" width="5" height="1.56" fill="#26a69a"/>
<rect x="537" y="684.54" width="5" height="1.31" fill="#b2dfdb"/>
<rect x="543" y="684.11" width="4" height="1.74" fill="#26a69a"/>
<rect x="548" y="685.00" width="5" height="1.00" fill="#ff5252"/>
<rect x="554" y="685.15" width="5" height="1.36" fill="#ff5252"/>
<rect x="560" y="685.15" width="5" height="2.66" fill="#ff5252"/>
<rect x="566" y="685.15" width="4" height="2.53" fill="#ffcdd2"/>
<rect x="571" y="685.15" width="5" height="3.33" fill="#ff5252"/>
<rect x="577" y="685.15" width="5" height="3.20" fill="#ffcdd2"/>
<rect x="583" y="685.15" width="4" height="1.29" fill="#ffcdd2"/>
<rect x="588" y="684.29" width="5" height="1.56" fill="#26a69a"/>
<rect x="594" y="683.84" width="5" height="2.01" fill="#26a69a"/>
<rect x="600" y="682.98" width="4" height="2.87" fill="#26a69a"/>
<rect x="605" y="682.76" width="5" height="3.09" fill="#26a69a"/>
<rect x="611" y="682.61" width="5" height="3.24" fill="#26a69a"/>
<rect x="617" y="681.05" width="4" height="4.80" fill="#26a69a"/>
<rect x="622" y="679.25" width="5" height="6.60" fill="#26a69a"/>
<rect x="628" y="676.64" width="5" height="9.21" fill="#26a69a"/>
<rect x="634" y="675.09" width="5" height="10.76" fill="#26a69a"/>
<rect x="640" y="676.04" width="4" height="9.81" fill="#b2dfdb"/>
<rect x="645" y="677.06" width="5" height="8.79" fill="#b2dfdb"/>
<rect x="651" y="677.68" width="5" height="8.17" fill="#b2dfdb"/>
<rect x="657" y="678.10" width="4" height="7.75" fill="#b2dfdb"/>
<rect x="662" y="679.22" width="5" height="6.63" fill="#b2dfdb"/>
<rect x="668" y="681.37" width="5" height="4.48" fill="#b2dfdb"/>
<rect x="674" y="682.74" width="4" height="3.11" fill="#b2dfdb"/>
<rect x="679" y="683.47" width="5" height="2.38" fill="#b2dfdb"/>
<rect x="685" y="684.19" width="5" height="1.66" fill="#b2dfdb"/>
<rect x="691" y="684.31" width="5" height="1.54" fill="#b2dfdb"/>
<rect x="697" y="684.05" width="4" height="1.80" fill="#26a69a"/>
<rect x="702" y="683.36" width="5" height="2.49" fill="#26a69a"/>
<rect x="708" y="683.28" width="5" height="2.57" fill="#26a69a"/>
<rect x="714" y="683.58" width="4" height="2.27" fill="#b2dfdb"/>
<rect x="719" y="683.98" width="5" height="1.87" fill="#b2dfdb"/>
<rect x="725" y="684.28" width="5" height="1.57" fill="#b2dfdb"/>
<rect x="731" y="685.15" width="4" height="1.30" fill="#ff5252"/>
<rect x="736" y="685.15" width="5" height="3.09" fill="#ff5252"/>
<rect x="742" y="685.15" width="5" height="4.77" fill="#ff5252"/>
<rect x="748" y="685.15" width="5" height="7.68" fill="#ff5252"/>
<rect x="754" y="685.15" width="4" height="8.81" fill="#ff5252"/>
<rect x="759" y="685.15" width="5" height="9.39" fill="#ff5252"/>
<rect x="765" y="685.15" width="5" height="5.43" fill="#ffcdd2"/>
<rect x="771" y="684.69" width="4" height="1.16" fill="#26a69a"/>
<rect x="776" y="678.08" width="5" height="7.77" fill="#26a69a"/>
<rect x="782" y="675.28" width="5" height="10.57" fill="#26a69a"/>
<rect x="788" y="673.09" width="4" height="12.76" fill="#26a69a"/>
<rect x="793" y="671.13" width="5" height="14.72" fill="#26a69a"/>
<rect x="799" y="671.06" width="5" height="14.79" fill="#26a69a"/>
<rect x="805" y="672.36" width="4" height="13.49" fill="#b2dfdb"/>
<rect x="810" y="674.33" width="5" height="11.52" fill="#b2dfdb"/>
<rect x="816" y="676.50" width="5" height="9.35" fill="#b2dfdb"/>
<rect x="822" y="680.24" width="5" height="5.61" fill="#b2dfdb"/>
<rect x="828" y="683.53" width="4" height="2.32" fill="#b2dfdb"/>
<rect x="833" y="684.76" width="5" height="1.09" fill="#b2dfdb"/>
<rect x="839" y="685.15" width="5" height="1.64" fill="#ff5252"/>
<rect x="845" y="685.15" width="4" height="1.86" fill="#ff5252"/>
<rect x="850" y="685.15" width="5" height="1.77" fill="#ffcdd2"/>
<rect x="856" y="685.15" width="5" height="1.16" fill="#ffcdd2"/>
<rect x="862" y="685.15" width="4" height="1.22" fill="#ff5252"/>
<rect x="867" y="685.15" width="5" height="2.32" fill="#ff5252"/>
<rect x="873" y="684.42" width="5" height="1.43" fill="#26a69a"/>
<rect x="879" y="682.75" width="5" height="3.10" fill="#26a69a"/>
<rect x="885" y="682.17" width="4" height="3.68" fill="#26a69a"/>
<rect x="890" y="682.92" width="5" height="2.93" fill="#b2dfdb"/>
<rect x="896" y="685.00" width="5" height="1.00" fill="#b2dfdb"/>
<rect x="902" y="685.15" width="4" height="5.11" fill="#ff5252"/>
<rect x="907" y="685.15" width="5" height="6.60" fill="#ff5252"/>
<rect x="913" y="685.15" width="5" height="6.01" fill="#ffcdd2"/>
<rect x="919" y="685.15" width="4" height="4.69" fill="#ffcdd2"/>
<rect x="924" y="685.15" width="5" height="3.32" fill="#ffcdd2"/>
<rect x="930" y="685.15" width="5" height="2.20" fill="#ffcdd2"/>
<rect x="936" y="685.15" width="4" height="2.13" fill="#ffcdd2"/>
<rect x="941" y="683.81" width="5" height="2.04" fill="#26a69a"/>
<rect x="947" y="678.45" width="5" height="7.40" fill="#26a69a"/>
<rect x="953" y="676.38" width="5" height="9.47" fill="#26a69a"/>
<rect x="959" y="676.56" width="4" height="9.29" fill="#b2dfdb"/>
<rect x="964" y="675.65" width="5" height="10.20" fill="#26a69a"/>
<rect x="970" y="676.37" width="5" height="9.48" fill="#b2dfdb"/>
<rect x="976" y="677.97" width="4" height="7.88" fill="#b2dfdb"/>
<rect x="981" y="679.66" width="5" height="6.19" fill="#b2dfdb"/>
<rect x="987" y="680.99" width="5" height="4.86" fill="#b2dfdb"/>
<rect x="993" y="681.78" width="4" height="4.07" fill="#b2dfdb"/>
<rect x="998" y="682.53" width="5" height="3.32" fill="#b2dfdb"/>
<rect x="1004" y="684.06" width="5" height="1.79" fill="#b2dfdb"/>
<rect x="1010" y="685.15" width="5" height="1.07" fill="#ff5252"/>
<rect x="1016" y="685.15" width="4" height="1.63" fill="#ff5252"/>
<rect x="1021" y="685.15" width="5" height="3.92" fill="#ff5252"/>
<rect x="1027" y="685.15" width="5" height="8.75" fill="#ff5252"/>
<rect x="1033" y="685.15" width="4" height="10.79" fill="#ff5252"/>
<rect x="1038" y="685.15" width="5" height="11.79" fill="#ff5252"/>
<rect x="1044" y="685.15" width="5" height="11.57" fill="#ffcdd2"/>
<rect x="1050" y="685.15" width="4" height="11.83" fill="#ff5252"/>
<rect x="1055" y="685.15" width="5" height="9.84" fill="#ffcdd2"/>
<rect x="1061" y="685.15" width="5" height="4.63" fill="#ffcdd2"/>
<rect x="1067" y="685.15" width="5" height="1.16" fill="#ffcdd2"/>
<rect x="1073" y="685.00" width="4" height="1.00" fill="#ffcdd2"/>
<rect x="1078" y="685.00" width="5" height="1.00" fill="#26a69a"/>
<rect x="1084" y="683.61" width="5" height="2.24" fill="#26a69a"/>
<rect x="1090" y="680.93" width="4" height="4.92" fill="#26a69a"/>
<rect x="1095" y="679.63" width="5" height="6.22" fill="#26a69a"/>
<rect x="1101" y="679.06" width="5" height="6.79" fill="#26a69a"/>
<rect x="1107" y="678.72" width="4" height="7.13" fill="#26a69a"/>
<rect x="1112" y="679.46" width="5" height="6.39" fill="#b2dfdb"/>
<rect x="1118" y="680.99" width="5" height="4.86" fill="#b2dfdb"/>
<rect x="1124" y="682.04" width="4" height="3.81" fill="#b2dfdb"/>
<rect x="1129" y="683.15" width="5" height="2.70" fill="#b2dfdb"/>
<rect x="1135" y="684.33" width="5" height="1.52" fill="#b2dfdb"/>
<rect x="1141" y="685.15" width="5" height="1.52" fill="#ff5252"/>
<rect x="1147" y="685.15" width="4" height="2.39" fill="#ff5252"/>
<rect x="1152" y="685.15" width="5" height="1.05" fill="#ffcdd2"/>
<rect x="1158" y="685.15" width="5" height="1.18" fill="#ff5252"/>
<rect x="1164" y="685.15" width="4" height="1.74" fill="#ff5252"/>
<rect x="1169" y="685.15" width="5" height="2.48" fill="#ff5252"/>
<rect x="1175" y="685.15" width="5" height="5.02" fill="#ff5252"/>
<rect x="1181" y="685.15" width="4" height="6.66" fill="#ff5252"/>
<rect x="1186" y="685.15" width="5" height="7.16" fill="#ff5252"/>
<rect x="1192" y="685.15" width="5" height="8.29" fill="#ff5252"/>
<rect x="1198" y="685.15" width="5" height="6.81" fill="#ffcdd2"/>
<rect x="1204" y="685.15" width="4" height="4.17" fill="#ffcdd2"/>
<rect x="1209" y="685.15" width="5" height="2.13" fill="#ffcdd2"/>
<rect x="1215" y="685.00" width="5" height="1.00" fill="#ffcdd2"/>
<rect x="1221" y="684.09" width="4" height="1.76" fill="#26a69a"/>
<rect x="1226" y="682.11" width="5" height="3.74" fill="#26a69a"/>
<rect x="1232" y="680.12" width="5" height="5.73" fill="#26a69a"/>
<rect x="1238" y="680.14" width="4" height="5.71" fill="#b2dfdb"/>
<rect x="1243" y="681.98" width="5" height="3.87" fill="#b2dfdb"/>
<rect x="1249" y="684.25" width="5" height="1.60" fill="#b2dfdb"/>
<rect x="1255" y="685.15" width="5" height="1.87" fill="#ff5252"/>
<rect x="1261" y="685.15" width="4" height="3.56" fill="#ff5252"/>
<rect x="1266" y="685.15" width="5" height="4.08" fill="#ff5252"/>
<rect x="1272" y="685.15" width="5" height="4.81" fill="#ff5252"/>
<rect x="1278" y="685.15" width="4" height="5.07" fill="#ff5252"/>
<rect x="1283" y="685.15" width="5" height="6.89" fill="#ff5252"/>
<rect x="1289" y="685.15" width="5" height="7.63" fill="#ff5252"/>
<rect x="1295" y="685.15" width="4" height="9.03" fill="#ff5252"/>
<rect x="1300" y="685.15" width="5" height="9.50" fill="#ff5252"/>
<rect x="1306" y="685.15" width="5" height="8.85" fill="#ffcdd2"/>
<rect x="1312" y="685.15" width="4" height="9.18" fill="#ff5252"/>
<rect x="1317" y="685.15" width="5" height="8.50" fill="#ffcdd2"/>
<rect x="1323" y="685.15" width="5" height="7.19" fill="#ffcdd2"/>
<rect x="1329" y="685.15" width="5" height="6.31" fill="#ffcdd2"/>
<rect x="1335" y="685.15" width="4" height="5.32" fill="#ffcdd2"/>
<rect x="1340" y="685.15" width="5" height="4.79" fill="#ffcdd2"/>
<rect x="1346" y="685.15" width="5" height="4.77" fill="#ffcdd2"/>
<rect x="1352" y="685.15" width="4" height="4.93" fill="#ff5252"/>
<rect x="1357" y="685.15" width="5" height="6.22" fill="#ff5252"/>
<rect x="1363" y="685.15" width="5" height="8.57" fill="#ff5252"/>
<rect x="1369" y="685.15" width="4" height="10.26" fill="#ff5252"/>
<rect x="1374" y="685.15" width="5" height="11.34" fill="#ff5252"/>
<rect x="1380" y="685.15" width="5" height="11.20" fill="#ffcdd2"/>
<rect x="1386" y="685.15" width="5" height="10.20" fill="#ffcdd2"/>
<rect x="1392" y="685.15" width="4" height="8.70" fill="#ffcdd2"/>
<rect x="1397" y="685.15" width="5" height="7.57" fill="#ffcdd2"/>
<rect x="1403" y="685.15" width="5" height="7.14" fill="#ffcdd2"/>
<rect x="1409" y="685.15" width="4" height="7.29" fill="#ff5252"/>
<polyline points="9.5,703.77 15.5,705.92 21.5,706.47 26.5,705.82 32.5,704.60 38.5,703.19 43.5,702.43 49.5,701.61 55.5,700.80 61.5,699.94 66.5,699.58 72.5,699.52 78.5,699.15 83.5,698.17 89.5,696.42 95.5,693.94 100.5,691.15 106.5,688.25 112.5,685.34 118.5,682.62 123.5,680.01 129.5,677.65 135.5,676.19 140.5,675.69 146.5,675.39 152.5,675.63 157.5,676.40 163.5,677.50 169.5,678.78 174.5,679.81 180.5,681.71 186.5,684.68 192.5,688.52 197.5,693.38 203.5,698.23 209.5,702.75 214.5,706.92 220.5,710.36 226.5,713.20 231.5,715.09 237.5,715.99 243.5,715.86 249.5,715.24 254.5,714.04 260.5,713.05 266.5,711.77 271.5,710.22 277.5,708.47 283.5,708.54 288.5,711.06 294.5,715.56 300.5,721.84 305.5,726.38 311.5,730.27 317.5,732.74 323.5,733.70 328.5,733.56 334.5,733.37 340.5,732.80 345.5,732.26 351.5,731.06 357.5,728.96 362.5,725.94 368.5,722.33 374.5,718.37 380.5,714.24 385.5,710.01 391.5,705.83 397.5,702.60 402.5,700.69 408.5,699.69 414.5,699.50 419.5,699.69 425.5,699.97 431.5,699.12 437.5,697.38 442.5,695.19 448.5,692.91 454.5,690.70 459.5,688.86 465.5,687.52 471.5,687.01 476.5,687.08 482.5,688.08 488.5,689.14 493.5,690.16 499.5,691.14 505.5,691.95 511.5,692.51 516.5,692.72 522.5,692.74 528.5,692.83 533.5,692.61 539.5,692.46 545.5,692.20 550.5,692.26 556.5,692.42 562.5,692.91 568.5,693.37 573.5,694.03 579.5,694.65 585.5,694.80 590.5,694.59 596.5,694.26 602.5,693.71 607.5,693.12 613.5,692.48 619.5,691.45 624.5,689.98 630.5,687.85 636.5,685.34 642.5,683.06 647.5,681.04 653.5,679.17 659.5,677.41 664.5,675.93 670.5,674.98 676.5,674.38 681.5,673.96 687.5,673.72 693.5,673.51 699.5,673.23 704.5,672.79 710.5,672.32 716.5,671.93 721.5,671.63 727.5,671.41 733.5,671.57 738.5,672.16 744.5,673.18 750.5,674.93 756.5,676.96 761.5,679.13 767.5,680.31 773.5,680.20 778.5,678.43 784.5,675.96 790.5,672.95 795.5,669.44 801.5,665.92 807.5,662.72 812.5,660.01 818.5,657.85 824.5,656.63 830.5,656.22 835.5,656.12 841.5,656.36 847.5,656.65 852.5,656.91 858.5,657.03 864.5,657.16 869.5,657.56 875.5,657.38 881.5,656.78 887.5,656.04 892.5,655.48 898.5,655.47 904.5,656.57 909.5,658.05 915.5,659.37 921.5,660.37 926.5,661.02 932.5,661.40 938.5,661.76 943.5,661.42 949.5,659.75 955.5,657.55 961.5,655.41 966.5,653.03 972.5,650.84 978.5,649.04 983.5,647.67 989.5,646.63 995.5,645.79 1000.5,645.13 1006.5,644.86 1012.5,644.95 1018.5,645.18 1023.5,645.99 1029.5,648.00 1035.5,650.52 1040.5,653.30 1046.5,656.02 1052.5,658.80 1057.5,661.08 1063.5,662.07 1069.5,662.18 1075.5,662.22 1080.5,662.15 1086.5,661.77 1092.5,660.71 1097.5,659.33 1103.5,657.81 1109.5,656.21 1114.5,654.78 1120.5,653.74 1126.5,652.97 1131.5,652.47 1137.5,652.26 1143.5,652.47 1149.5,652.89 1154.5,652.98 1160.5,653.10 1166.5,653.36 1171.5,653.80 1177.5,654.88 1183.5,656.37 1188.5,657.99 1194.5,659.88 1200.5,661.41 1206.5,662.28 1211.5,662.64 1217.5,662.65 1223.5,662.39 1228.5,661.63 1234.5,660.37 1240.5,659.12 1245.5,658.33 1251.5,658.10 1257.5,658.39 1263.5,659.11 1268.5,659.95 1274.5,660.98 1280.5,662.07 1285.5,663.62 1291.5,665.36 1297.5,667.44 1302.5,669.64 1308.5,671.67 1314.5,673.80 1319.5,675.74 1325.5,677.37 1331.5,678.77 1337.5,679.93 1342.5,680.95 1348.5,681.96 1354.5,683.02 1359.5,684.40 1365.5,686.37 1371.5,688.76 1376.5,691.42 1382.5,694.04 1388.5,696.42 1394.5,698.42 1399.5,700.13 1405.5,701.74 1411.5,703.39" fill="none" stroke="#ff6d00" stroke-width="1.15" stroke-linejoin="round"/>
<polyline points="9.5,716.74 15.5,714.54 21.5,708.63 26.5,703.22 32.5,699.74 38.5,697.55 43.5,699.37 49.5,698.36 55.5,697.55 61.5,696.48 66.5,698.14 72.5,699.29 78.5,697.67 83.5,694.26 89.5,689.39 95.5,684.05 100.5,679.97 106.5,676.65 112.5,673.72 118.5,671.74 123.5,669.55 129.5,668.20 135.5,670.39 140.5,673.68 146.5,674.20 152.5,676.58 157.5,679.50 163.5,681.86 169.5,683.93 174.5,683.90 180.5,689.32 186.5,696.57 192.5,703.88 197.5,712.80 203.5,717.65 209.5,720.81 214.5,723.59 220.5,724.11 226.5,724.60 231.5,722.62 237.5,719.59 243.5,715.35 249.5,712.73 254.5,709.24 260.5,709.11 266.5,706.65 271.5,704.04 277.5,701.43 283.5,708.82 288.5,721.14 294.5,733.58 300.5,746.94 305.5,744.53 311.5,745.85 317.5,742.63 323.5,737.52 328.5,733.00 334.5,732.60 340.5,730.52 345.5,730.12 351.5,726.24 357.5,720.56 362.5,713.87 368.5,707.87 374.5,702.57 380.5,697.69 385.5,693.12 391.5,689.10 397.5,689.67 402.5,693.04 408.5,695.68 414.5,698.77 419.5,700.43 425.5,701.12 431.5,695.71 437.5,690.40 442.5,686.45 448.5,683.78 454.5,681.88 459.5,681.48 465.5,682.18 471.5,684.94 476.5,687.38 482.5,692.06 488.5,693.38 493.5,694.24 499.5,695.08 505.5,695.19 511.5,694.72 516.5,693.56 522.5,692.81 528.5,693.20 533.5,691.75 539.5,691.85 545.5,691.16 550.5,692.48 556.5,693.09 562.5,694.87 568.5,695.20 573.5,696.66 579.5,697.15 585.5,695.39 590.5,693.73 596.5,692.94 602.5,691.54 607.5,690.73 613.5,689.94 619.5,687.35 624.5,684.08 630.5,679.35 636.5,675.27 642.5,673.95 647.5,672.95 653.5,671.70 659.5,670.36 664.5,670.00 670.5,671.21 676.5,671.97 681.5,672.28 687.5,672.76 693.5,672.67 699.5,672.14 704.5,671.00 710.5,670.44 716.5,670.36 721.5,670.46 727.5,670.54 733.5,672.17 738.5,674.56 744.5,677.25 750.5,681.91 756.5,685.07 761.5,687.81 767.5,685.04 773.5,679.74 778.5,671.36 784.5,666.10 790.5,660.88 795.5,655.42 801.5,651.83 807.5,649.93 812.5,649.19 818.5,649.20 824.5,651.72 830.5,654.60 835.5,655.73 841.5,657.30 847.5,657.80 852.5,657.99 858.5,657.49 864.5,657.68 869.5,659.19 875.5,656.65 881.5,654.39 887.5,653.05 892.5,653.25 898.5,655.43 904.5,660.98 909.5,663.94 915.5,664.68 921.5,664.36 926.5,663.64 932.5,662.90 938.5,663.19 943.5,660.08 949.5,653.05 955.5,648.78 961.5,646.82 966.5,643.53 972.5,642.05 978.5,641.87 983.5,642.18 989.5,642.47 995.5,642.41 1000.5,642.51 1006.5,643.77 1012.5,645.32 1018.5,646.12 1023.5,649.20 1029.5,656.05 1035.5,660.62 1040.5,664.39 1046.5,666.89 1052.5,669.93 1057.5,670.22 1063.5,665.99 1069.5,662.64 1075.5,662.37 1080.5,661.90 1086.5,660.23 1092.5,656.50 1097.5,653.82 1103.5,651.73 1109.5,649.78 1114.5,649.09 1120.5,649.58 1126.5,649.85 1131.5,650.47 1137.5,651.44 1143.5,653.29 1149.5,654.58 1154.5,653.32 1160.5,653.58 1166.5,654.40 1171.5,655.58 1177.5,659.20 1183.5,662.34 1188.5,664.45 1194.5,667.47 1200.5,667.52 1206.5,665.75 1211.5,664.06 1217.5,662.73 1223.5,661.33 1228.5,658.58 1234.5,655.34 1240.5,654.11 1245.5,655.16 1251.5,657.20 1257.5,659.56 1263.5,661.97 1268.5,663.33 1274.5,665.09 1280.5,666.44 1285.5,669.82 1291.5,672.29 1297.5,675.77 1302.5,678.44 1308.5,679.82 1314.5,682.28 1319.5,683.54 1325.5,683.86 1331.5,684.38 1337.5,684.55 1342.5,685.03 1348.5,686.03 1354.5,687.25 1359.5,689.93 1365.5,694.24 1371.5,698.32 1376.5,702.06 1382.5,704.54 1388.5,705.92 1394.5,706.41 1399.5,707.00 1405.5,708.18 1411.5,709.98" fill="none" stroke="#2962ff" stroke-width="1.15" stroke-linejoin="round"/>
</g>
<path fill-rule="evenodd" fill="#2f2f2f" d="M9,26 H1532 V787 H9 Z M10.45,27.8 V785.1 H1530.2 V27.8 Z"/>
</svg>
<svg width="1541" height="846" viewBox="0 0 1541 846" style="position:absolute;left:0;top:0;will-change:transform;font-family:'Liberation Sans',sans-serif">
<text x="10.1" y="19.1" font-size="13" fill="#e6e6e6" font-weight="bold" text-anchor="start" textLength="78.3" lengthAdjust="spacingAndGlyphs" >Richtv_official</text>
<text x="91.8" y="19.1" font-size="13" fill="#e6e6e6" font-weight="bold" text-anchor="start" textLength="40.5" lengthAdjust="spacingAndGlyphs" >created</text>
<text x="135.7" y="19.1" font-size="13" fill="#e6e6e6" font-weight="bold" text-anchor="start" textLength="22.9" lengthAdjust="spacingAndGlyphs" >with</text>
<text x="164.4" y="19.1" font-size="13" fill="#e6e6e6" font-weight="bold" text-anchor="start" textLength="93.8" lengthAdjust="spacingAndGlyphs" >TradingView.com,</text>
<text x="262.7" y="19.1" font-size="13" fill="#e6e6e6" font-weight="bold" text-anchor="start" textLength="18.1" lengthAdjust="spacingAndGlyphs" >Jan</text>
<text x="285" y="19.1" font-size="13" fill="#e6e6e6" font-weight="bold" text-anchor="start" textLength="14.8" lengthAdjust="spacingAndGlyphs" >19,</text>
<text x="304.9" y="19.1" font-size="13" fill="#e6e6e6" font-weight="bold" text-anchor="start" textLength="24.3" lengthAdjust="spacingAndGlyphs" >2026</text>
<text x="333.9" y="19.1" font-size="13" fill="#e6e6e6" font-weight="bold" text-anchor="start" textLength="29.0" lengthAdjust="spacingAndGlyphs" >19:08</text>
<text x="366.8" y="19.1" font-size="13" fill="#e6e6e6" font-weight="bold" text-anchor="start" textLength="34.6" lengthAdjust="spacingAndGlyphs" >UTC+5</text>
<text x="17.9" y="46" font-size="12" fill="#d1d4dc" font-weight="normal" text-anchor="start" textLength="30.6" lengthAdjust="spacingAndGlyphs" stroke="#d1d4dc" stroke-width="0.3" >Apple</text>
<text x="52.5" y="46" font-size="12" fill="#d1d4dc" font-weight="normal" text-anchor="start" textLength="14.4" lengthAdjust="spacingAndGlyphs" stroke="#d1d4dc" stroke-width="0.3" >Inc</text>
<text x="80.1" y="46" font-size="12" fill="#d1d4dc" font-weight="normal" text-anchor="start" textLength="12.7" lengthAdjust="spacingAndGlyphs" stroke="#d1d4dc" stroke-width="0.3" >1D</text>
<text x="104.9" y="46" font-size="12" fill="#d1d4dc" font-weight="normal" text-anchor="start" textLength="43.1" lengthAdjust="spacingAndGlyphs" stroke="#d1d4dc" stroke-width="0.3" >NASDAQ</text>
<circle cx="72.6" cy="41.9" r="1" fill="#d1d4dc"/><circle cx="98.6" cy="41.9" r="1" fill="#d1d4dc"/>
<text x="155.5" y="46" font-size="12" fill="#d1d4dc" font-weight="normal" text-anchor="start" textLength="7.3" lengthAdjust="spacingAndGlyphs" stroke="#d1d4dc" stroke-width="0.3" >O</text>
<text x="163.6" y="46" font-size="12" fill="#f23645" font-weight="normal" text-anchor="start" textLength="35" lengthAdjust="spacingAndGlyphs" stroke="#f23645" stroke-width="0.3" >257.90</text>
<text x="206.8" y="46" font-size="12" fill="#d1d4dc" font-weight="normal" text-anchor="start" textLength="7.1" lengthAdjust="spacingAndGlyphs" stroke="#d1d4dc" stroke-width="0.3" >H</text>
<text x="214.8" y="46" font-size="12" fill="#f23645" font-weight="normal" text-anchor="start" textLength="35" lengthAdjust="spacingAndGlyphs" stroke="#f23645" stroke-width="0.3" >258.90</text>
<text x="258" y="46" font-size="12" fill="#d1d4dc" font-weight="normal" text-anchor="start" textLength="4.9" lengthAdjust="spacingAndGlyphs" stroke="#d1d4dc" stroke-width="0.3" >L</text>
<text x="263.9" y="46" font-size="12" fill="#f23645" font-weight="normal" text-anchor="start" textLength="35" lengthAdjust="spacingAndGlyphs" stroke="#f23645" stroke-width="0.3" >254.93</text>
<text x="306.7" y="46" font-size="12" fill="#d1d4dc" font-weight="normal" text-anchor="start" textLength="6.4" lengthAdjust="spacingAndGlyphs" stroke="#d1d4dc" stroke-width="0.3" >C</text>
<text x="314.1" y="46" font-size="12" fill="#f23645" font-weight="normal" text-anchor="start" textLength="35" lengthAdjust="spacingAndGlyphs" stroke="#f23645" stroke-width="0.3" >255.53</text>
<text x="357.3" y="46" font-size="12" fill="#f23645" font-weight="normal" text-anchor="start" textLength="28.2" lengthAdjust="spacingAndGlyphs" stroke="#f23645" stroke-width="0.3" >−2.68</text>
<text x="391" y="46" font-size="12" fill="#f23645" font-weight="normal" text-anchor="start" textLength="44.2" lengthAdjust="spacingAndGlyphs" stroke="#f23645" stroke-width="0.3" >(−1.04%)</text>
<text x="1486" y="107" font-size="12" fill="#b2b5be" font-weight="normal" text-anchor="start" textLength="36" lengthAdjust="spacingAndGlyphs" stroke="#b2b5be" stroke-width="0.3" >290.00</text>
<text x="1486" y="160" font-size="12" fill="#b2b5be" font-weight="normal" text-anchor="start" textLength="36" lengthAdjust="spacingAndGlyphs" stroke="#b2b5be" stroke-width="0.3" >280.00</text>
<text x="1486" y="212.7" font-size="12" fill="#b2b5be" font-weight="normal" text-anchor="start" textLength="36" lengthAdjust="spacingAndGlyphs" stroke="#b2b5be" stroke-width="0.3" >270.00</text>
<text x="1486" y="265.6" font-size="12" fill="#b2b5be" font-weight="normal" text-anchor="start" textLength="36" lengthAdjust="spacingAndGlyphs" stroke="#b2b5be" stroke-width="0.3" >260.00</text>
<text x="1486" y="318" font-size="12" fill="#b2b5be" font-weight="normal" text-anchor="start" textLength="36" lengthAdjust="spacingAndGlyphs" stroke="#b2b5be" stroke-width="0.3" >250.00</text>
<text x="1486" y="370.7" font-size="12" fill="#b2b5be" font-weight="normal" text-anchor="start" textLength="36" lengthAdjust="spacingAndGlyphs" stroke="#b2b5be" stroke-width="0.3" >240.00</text>
<text x="1486" y="424.3" font-size="12" fill="#b2b5be" font-weight="normal" text-anchor="start" textLength="36" lengthAdjust="spacingAndGlyphs" stroke="#b2b5be" stroke-width="0.3" >230.00</text>
<text x="1486" y="477" font-size="12" fill="#b2b5be" font-weight="normal" text-anchor="start" textLength="36" lengthAdjust="spacingAndGlyphs" stroke="#b2b5be" stroke-width="0.3" >220.00</text>
<text x="1486" y="530.1" font-size="12" fill="#b2b5be" font-weight="normal" text-anchor="start" textLength="36" lengthAdjust="spacingAndGlyphs" stroke="#b2b5be" stroke-width="0.3" >210.00</text>
<text x="1486" y="583" font-size="12" fill="#b2b5be" font-weight="normal" text-anchor="start" textLength="36" lengthAdjust="spacingAndGlyphs" stroke="#b2b5be" stroke-width="0.3" >200.00</text>
<text x="1486" y="689.0" font-size="12" fill="#b2b5be" font-weight="normal" text-anchor="start" textLength="36" lengthAdjust="spacingAndGlyphs" stroke="#b2b5be" stroke-width="0.3" >0.0000</text>
<text x="1486.1" y="747.4" font-size="12" fill="#b2b5be" font-weight="normal" text-anchor="start" textLength="35.7" lengthAdjust="spacingAndGlyphs" stroke="#b2b5be" stroke-width="0.3" >−10.00</text>
<text x="43.5" y="776" font-size="12" fill="#b2b5be" font-weight="normal" text-anchor="middle" textLength="19" lengthAdjust="spacingAndGlyphs" stroke="#b2b5be" stroke-width="0.3" >Feb</text>
<text x="151.6" y="776" font-size="12" fill="#b2b5be" font-weight="normal" text-anchor="middle" textLength="20" lengthAdjust="spacingAndGlyphs" stroke="#b2b5be" stroke-width="0.3" >Mar</text>
<text x="271.1" y="776" font-size="12" fill="#b2b5be" font-weight="normal" text-anchor="middle" textLength="18.5" lengthAdjust="spacingAndGlyphs" stroke="#b2b5be" stroke-width="0.3" >Apr</text>
<text x="391.0" y="776" font-size="12" fill="#b2b5be" font-weight="normal" text-anchor="middle" textLength="21.1" lengthAdjust="spacingAndGlyphs" stroke="#b2b5be" stroke-width="0.3" >May</text>
<text x="510.7" y="776" font-size="12" fill="#b2b5be" font-weight="normal" text-anchor="middle" textLength="18.5" lengthAdjust="spacingAndGlyphs" stroke="#b2b5be" stroke-width="0.3" >Jun</text>
<text x="624.1" y="776" font-size="12" fill="#b2b5be" font-weight="normal" text-anchor="middle" textLength="15.5" lengthAdjust="spacingAndGlyphs" stroke="#b2b5be" stroke-width="0.3" >Jul</text>
<text x="749.7" y="776" font-size="12" fill="#b2b5be" font-weight="normal" text-anchor="middle" textLength="19.4" lengthAdjust="spacingAndGlyphs" stroke="#b2b5be" stroke-width="0.3" >Aug</text>
<text x="869.3" y="776" font-size="12" fill="#b2b5be" font-weight="normal" text-anchor="middle" textLength="19.1" lengthAdjust="spacingAndGlyphs" stroke="#b2b5be" stroke-width="0.3" >Sep</text>
<text x="989.3" y="776" font-size="12" fill="#b2b5be" font-weight="normal" text-anchor="middle" textLength="18.5" lengthAdjust="spacingAndGlyphs" stroke="#b2b5be" stroke-width="0.3" >Oct</text>
<text x="1120.0" y="776" font-size="12" fill="#b2b5be" font-weight="normal" text-anchor="middle" textLength="20.4" lengthAdjust="spacingAndGlyphs" stroke="#b2b5be" stroke-width="0.3" >Nov</text>
<text x="1228.3" y="776" font-size="12" fill="#b2b5be" font-weight="normal" text-anchor="middle" textLength="19.5" lengthAdjust="spacingAndGlyphs" stroke="#b2b5be" stroke-width="0.3" >Dec</text>
<text x="1353.75" y="776" font-size="12" fill="#d1d4dc" font-weight="bold" text-anchor="middle" textLength="27.7" lengthAdjust="spacingAndGlyphs" >2026</text>
<text x="1467.4" y="776" font-size="12" fill="#b2b5be" font-weight="normal" text-anchor="middle" textLength="19.4" lengthAdjust="spacingAndGlyphs" stroke="#b2b5be" stroke-width="0.3" >Feb</text>
<rect x="1481.2" y="31" width="45.4" height="26" rx="4" fill="#0f0f0f" stroke="#444444" stroke-width="1.1"/>
<text x="1489.7" y="49.1" font-size="12" fill="#dbdbdb" font-weight="bold" text-anchor="start" textLength="21.2" lengthAdjust="spacingAndGlyphs" >USD</text>
<path d="M1478,174.0 H1525 Q1527,174.0 1527,176.0 V189.0 Q1527,191.0 1525,191.0 H1478 Z" fill="#e91e63"/><text x="1486" y="186.9" font-size="12" fill="#ffffff" font-weight="bold" text-anchor="start" textLength="36" lengthAdjust="spacingAndGlyphs" >275.00</text>
<path d="M1478,243.0 H1525 Q1527,243.0 1527,245.0 V258.0 Q1527,260.0 1525,260.0 H1478 Z" fill="#e91e63"/><text x="1486" y="255.9" font-size="12" fill="#ffffff" font-weight="bold" text-anchor="start" textLength="36" lengthAdjust="spacingAndGlyphs" >262.00</text>
<path d="M1478,277.0 H1525 Q1527,277.0 1527,279.0 V292.0 Q1527,294.0 1525,294.0 H1478 Z" fill="#f23645"/><text x="1486" y="289.9" font-size="12" fill="#ffffff" font-weight="bold" text-anchor="start" textLength="36" lengthAdjust="spacingAndGlyphs" >255.53</text>
<path d="M1478,364.0 H1525 Q1527,364.0 1527,366.0 V379.0 Q1527,381.0 1525,381.0 H1478 Z" fill="#ffffff"/><text x="1486" y="376.9" font-size="12" fill="#0a0a0a" font-weight="normal" text-anchor="start" textLength="35.6" lengthAdjust="spacingAndGlyphs" stroke="#0a0a0a" stroke-width="0.3" >239.00</text>
<path d="M1478,683.0 H1520.2 Q1521,683.0 1521,683.8 V699.2 Q1521,700.0 1520.2,700.0 H1478 Z" fill="#ff5252"/><text x="1486" y="695.9" font-size="12" fill="#ffffff" font-weight="bold" text-anchor="start" textLength="29.5" lengthAdjust="spacingAndGlyphs" >−1.14</text>
<path d="M1478,700.0 H1520.2 Q1521,700.0 1521,700.8 V716.2 Q1521,717.0 1520.2,717.0 H1478 Z" fill="#ff6d00"/><text x="1486" y="712.9" font-size="12" fill="#ffffff" font-weight="bold" text-anchor="start" textLength="29.5" lengthAdjust="spacingAndGlyphs" >−3.10</text>
<path d="M1478,717.0 H1520.2 Q1521,717.0 1521,717.8 V733.2 Q1521,734.0 1520.2,734.0 H1478 Z" fill="#2962ff"/><text x="1486" y="729.9" font-size="12" fill="#ffffff" font-weight="bold" text-anchor="start" textLength="29.5" lengthAdjust="spacingAndGlyphs" >−4.23</text>
<path d="M23.8,610.0 L32.5,604.4 L41.2,610.0 V622 Q41.2,623 40.2,623 H24.8 Q23.8,623 23.8,622 Z" fill="#0f0f0f" stroke="#089981" stroke-width="2" stroke-linejoin="round"/><path d="M35.4,610.7 H30.3 V618.5 H35.4 M30.3,614.5 H34.8" fill="none" stroke="#089981" stroke-width="1.5"/>
<path d="M382.8,610.0 L391.5,604.4 L400.2,610.0 V622 Q400.2,623 399.2,623 H383.8 Q382.8,623 382.8,622 Z" fill="#0f0f0f" stroke="#089981" stroke-width="2" stroke-linejoin="round"/><path d="M394.4,610.7 H389.3 V618.5 H394.4 M389.3,614.5 H393.8" fill="none" stroke="#089981" stroke-width="1.5"/>
<path d="M735.8,610.0 L744.5,604.4 L753.2,610.0 V622 Q753.2,623 752.2,623 H736.8 Q735.8,623 735.8,622 Z" fill="#0f0f0f" stroke="#089981" stroke-width="2" stroke-linejoin="round"/><path d="M747.4,610.7 H742.3 V618.5 H747.4 M742.3,614.5 H746.8" fill="none" stroke="#089981" stroke-width="1.5"/>
<path d="M1100.8,610.0 L1109.5,604.4 L1118.2,610.0 V622 Q1118.2,623 1117.2,623 H1101.8 Q1100.8,623 1100.8,622 Z" fill="#0f0f0f" stroke="#089981" stroke-width="2" stroke-linejoin="round"/><path d="M1112.4,610.7 H1107.3 V618.5 H1112.4 M1107.3,614.5 H1111.8" fill="none" stroke="#089981" stroke-width="1.5"/>
<circle cx="72.5" cy="614.5" r="9.4" fill="#0f0f0f" stroke="#2962ff" stroke-width="2.2"/><path d="M69.7,610.6 V618.5 H71.3 C76.5,618.5 76.5,610.6 71.3,610.6 Z" fill="none" stroke="#2962ff" stroke-width="1.5"/>
<circle cx="431.5" cy="614.5" r="9.4" fill="#0f0f0f" stroke="#2962ff" stroke-width="2.2"/><path d="M428.7,610.6 V618.5 H430.3 C435.5,618.5 435.5,610.6 430.3,610.6 Z" fill="none" stroke="#2962ff" stroke-width="1.5"/>
<circle cx="784.5" cy="614.5" r="9.4" fill="#0f0f0f" stroke="#2962ff" stroke-width="2.2"/><path d="M781.7,610.6 V618.5 H783.3 C788.5,618.5 788.5,610.6 783.3,610.6 Z" fill="none" stroke="#2962ff" stroke-width="1.5"/>
<circle cx="1149.5" cy="614.5" r="9.4" fill="#0f0f0f" stroke="#2962ff" stroke-width="2.2"/><path d="M1146.7,610.6 V618.5 H1148.3 C1153.5,618.5 1153.5,610.6 1148.3,610.6 Z" fill="none" stroke="#2962ff" stroke-width="1.5"/>
<circle cx="1412.0" cy="614.5" r="10" fill="#0f0d0d" stroke="#bb4fd6" stroke-width="1.3"/>
<path d="M1414.8,609.1 L1407.0,614.7 L1411.3,615.2 L1408.0,620.0 L1416.1,614.4 L1412.1,613.9 Z" fill="#bb4fd6"/>
<path d="M1400.9,612.9 Q1401.8000000000002,617.0 1405.9,617.9 Q1401.8000000000002,618.8 1400.9,622.9 Q1400.0,618.8 1395.9,617.9 Q1400.0,617.0 1400.9,612.9 Z" fill="#7c4dff" stroke="#0f0d0d" stroke-width="3" stroke-linejoin="round" paint-order="stroke"/>
<path d="M1400.9,612.9 Q1401.8000000000002,617.0 1405.9,617.9 Q1401.8000000000002,618.8 1400.9,622.9 Q1400.0,618.8 1395.9,617.9 Q1400.0,617.0 1400.9,612.9 Z" fill="#7c4dff"/>
<rect x="1447.8" y="605.7" width="17.4" height="17.4" rx="2" fill="#0f0f0f" stroke="#d400f0" stroke-width="2"/>
<path d="M1459.4,610.7 H1454.3 V618.5 H1459.4 M1454.3,614.5 H1458.8" fill="none" stroke="#d400f0" stroke-width="1.5"/>
<path d="M579.5,608.3 L583.3,615.4 H575.7 Z" fill="#12a589"/>
<path d="M1000.5,296.8 L1004.3,303.90000000000003 H996.7 Z" fill="#12a589"/>
<path d="M11.7,807.8 H24.3 V823 H17.5 V813.7 H11.7 Z" fill="#e1e1e1"/>
<circle cx="29" cy="810.8" r="3" fill="#e1e1e1"/>
<path d="M32.4,807.8 H42 L35.6,823 H29.2 Z" fill="#e1e1e1"/>
<clipPath id="wclip"><rect x="150" y="811.8" width="25" height="11"/></clipPath>
<g fill="none" stroke="#e1e1e1" stroke-width="3">
<path d="M49,809.5 H60 M54.55,808 V822.8"/>
<path d="M61.6,822.8 V811.8 M61.6,818 Q61.6,813.4 66.6,813.4"/>
<circle cx="72.2" cy="817.3" r="4.05" stroke-width="2.8"/><path d="M76.25,811.8 V822.8"/>
<circle cx="85.3" cy="817.3" r="4.05" stroke-width="2.8"/><path d="M89.55,808 V822.8"/>
<path d="M94.65,811.8 V822.8"/>
<path d="M99.7,822.8 V811.8 M99.7,817.2 Q99.7,813.3 103.1,813.3 Q106.5,813.3 106.5,817.2 V822.8"/>
<circle cx="115.5" cy="817.3" r="4.05" stroke-width="2.8"/><path d="M119.6,811.8 V822.4 C119.6,825.4 117.8,826.4 115.4,826.4 C113.6,826.4 112.3,825.8 111.3,824.8"/>
<path d="M138.5,811.8 V822.8"/>
<path stroke-width="2.5" d="M143.8,817.6 H151.2"/><path stroke-width="2.8" d="M151.6,817.9 A4.05,4.05 0 1 0 150.4,820.4"/>
<path clip-path="url(#wclip)" stroke-width="2.9" stroke-linejoin="miter" stroke-miterlimit="10" d="M154.9,810.5 L158.5,822.2 L161.9,812.2 L165.3,822.2 L168.9,810.5"/>
</g>
<circle cx="94.65" cy="809.6" r="1.8" fill="#e1e1e1"/><circle cx="138.5" cy="809.6" r="1.8" fill="#e1e1e1"/>
<path d="M120.5,808 H124 L128.2,818.6 L132.8,808 H136.1 L129.8,822.8 H126.4 Z" fill="#e1e1e1"/>
</svg></body></html>
